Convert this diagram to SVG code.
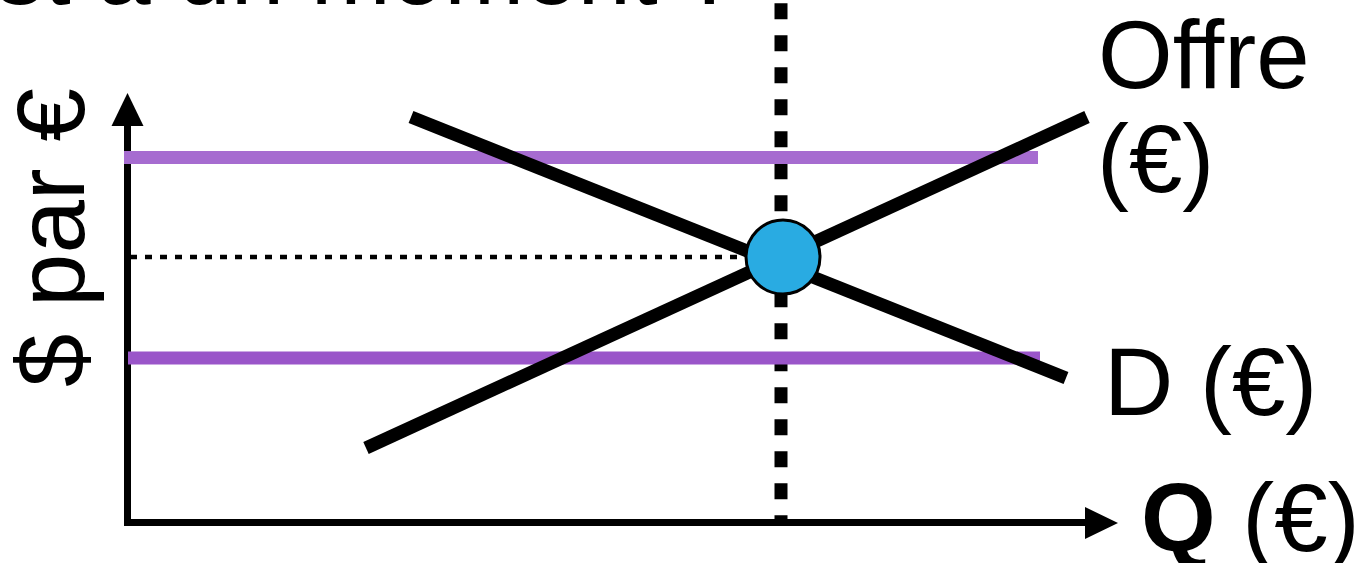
<svg xmlns="http://www.w3.org/2000/svg" width="1371" height="563" viewBox="0 0 1371 563">
<defs>
<style>
.lbl{font-family:"Liberation Sans",Arial,sans-serif;font-size:96px;fill:#000}
.axis{stroke:#000;stroke-width:7;fill:none}
.curve{stroke:#000;stroke-width:13;fill:none}
</style>
</defs>
<rect width="1371" height="563" fill="#fff"/>
<text class="lbl" x="-4" y="4">st à un moment ?</text>
<g id="axes">
<line class="axis" x1="127.5" y1="522.5" x2="127.5" y2="122"/>
<polygon points="127.5,93 111.5,126 143.5,126" fill="#000"/>
<line class="axis" x1="124" y1="522.5" x2="1090" y2="522.5"/>
<polygon points="1118,523 1085,507 1085,539" fill="#000"/>
</g>
<g id="connectors">
<line id="vline" x1="781" y1="3.3" x2="781" y2="520" stroke="#000" stroke-width="13" stroke-dasharray="16 16"/>
<line id="hdot" x1="130" y1="257" x2="748" y2="257" stroke="#000" stroke-width="4.5" stroke-dasharray="7 8"/>
<line id="purple-top" x1="124" y1="157.5" x2="1038" y2="157.5" stroke="#a66cd0" stroke-width="13"/>
<line id="purple-bot" x1="128" y1="358" x2="1040" y2="358" stroke="#9a55c9" stroke-width="13"/>
<line id="supply" class="curve" x1="366" y1="448" x2="1087" y2="117"/>
<line id="demand" class="curve" x1="411" y1="117" x2="1066" y2="378"/>
</g>
<g id="equilibrium">
<circle cx="783" cy="257" r="37" fill="#29abe2" stroke="#000" stroke-width="3"/>
</g>
<g id="label-offre">
<text class="lbl" x="1098" y="88">Offre</text>
<text class="lbl" x="1097" y="192">(€)</text>
</g>
<g id="label-demand">
<text class="lbl" x="1104" y="415">D (€)</text>
</g>
<g id="label-q">
<text class="lbl" x="1141" y="551"><tspan font-weight="bold">Q</tspan> (€)</text>
</g>
<g id="label-y">
<text class="lbl" transform="translate(84,387) rotate(-90)">$ par €</text>
</g>
</svg>
